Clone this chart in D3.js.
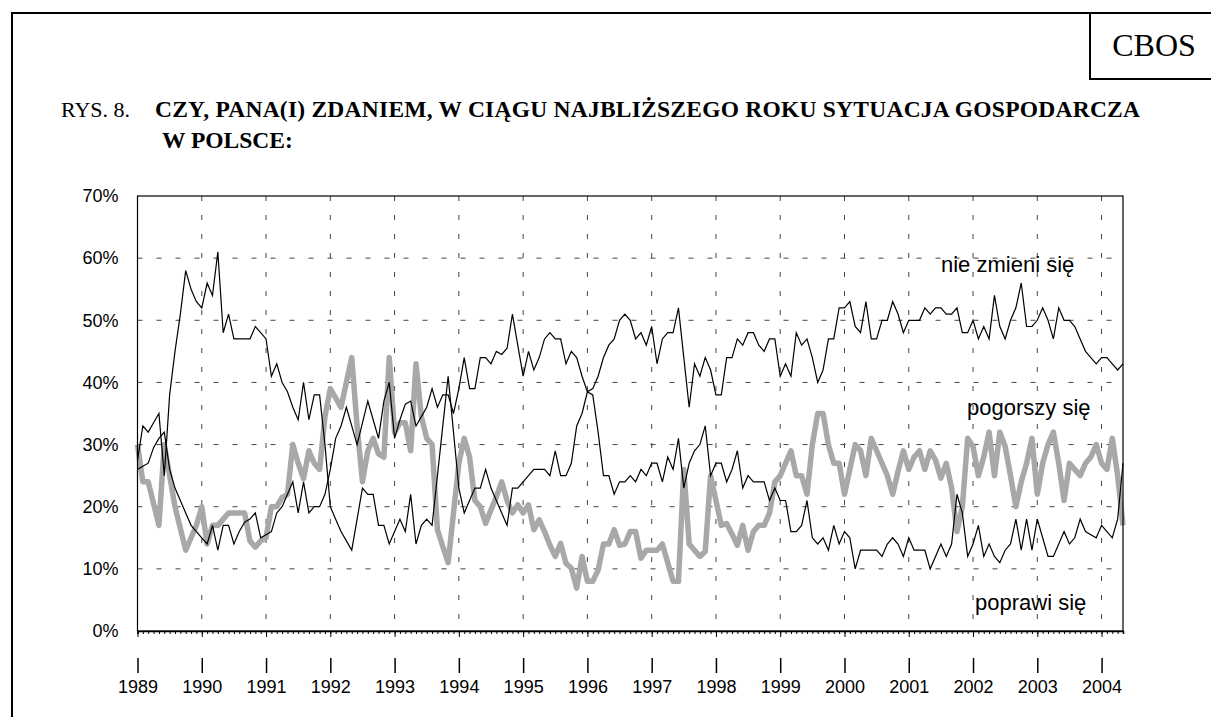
<!DOCTYPE html>
<html><head><meta charset="utf-8">
<script src="https://cdn.jsdelivr.net/npm/d3@7"></script>
<style>
html,body{margin:0;padding:0;background:#fff;}
svg{display:block;}
</style></head>
<body>
<svg id="chart" width="1211" height="717"></svg>
<script>
// ---- DATA (monthly, index 0 = January 1989) ----
const startYear = 1989;
const yearLabels = ["1989","1990","1991","1992","1993","1994","1995","1996","1997","1998","1999","2000","2001","2002","2003","2004"];
const yTicks = [0,10,20,30,40,50,60,70];
const seriesNames = ["nie zmieni się","pogorszy się","poprawi się"];

const nieZmieni = [27.5,33,32,33.5,35,25,38,45,51,58,55,53,52,56,54,61,48,51,47,47,47,47,49,48,
47,41,43,40,38.5,36,34,40,34,38,38,30,20,18,16,14.5,13,18,23,22,22,17,17,14,
16,18,16,22,14,17,18,17,25,33,41,32,23,19,21,23,23,26,23,21,19,17,23,23,
24,25,26,26,26,25,29,25,25,27,33,35,38.5,39,41,44,46,47,50,51,50,47,48,46,
49,43,47,48,48,52,44,36,43,41,44,42,38,38,44,44,47,46,48,48,46,45,47,47,
41,43,41,48,46,47,44,40,42,47,47,52,52,53,49,48,53,47,47,50,50,53,51,48,
50,50,50,52,51,52,52,51,51,52,48,48,50,47,49,47,54,49,47,50,52,56,49,49,
50,52,50,47,52,50,50,49,47,45,44,43,44,44,43,42,43];

const poprawi = [26,26.5,27,29.5,31,32,26,23,21,19,17,16,15,14,17,13,17,17,14,16,17.5,18,19,15,
15.5,16,19,20,22,24,19,24,19,20,20,22,26,31,33,36,33,30,33.5,37,34,31,37,40,
31,34,36.5,37,33,34.5,36,39,36,38,38,35,39,44,39,39,44,44,43,45,44.5,45.5,51,46,
41,45,42,44,47,48,47,47,43,45,44,41,38.5,38,32,25,25,22,24,24,25,24,26,25,
27,27,24,28,26,31,23,27,29,30,33,25,27,27,24,26,29,23,25,24,24,24,21,23,
21,21,16,16,17,21,15,14,15,13,17,14,16,15,10,13,13,13,13,12,14,15,14,12,
15,13,13,13,10,12,14,12,14,22,19,12,14,17,12,14,12,11,13,14,18,13,18,13,
18,15,12,12,14,16,14,15,18,16,15.5,15,17,16,15,18,27];

const pogorszy = [30,24,24,20.5,17,30,25,20,16.5,13,15,17,20,14,17,17,18,19,19,19,19,14.5,13.5,14.5,
15,20,20,21.5,22,30,27,24.5,29,27,26,34.5,39,37.5,36,40,44,33,24,29,31,28.5,28,44,
32,33.5,33.5,29,43,34.5,31,30,16.3,13.6,11,19,27,31,28,21,20,17.3,19.5,21.6,24,21,19,20.3,
19,20.3,16.3,17.9,16,13.8,12,14.1,10.9,10.1,6.9,12,8,8,9.8,14,14,16.3,13.8,14,16,16,11.7,13,
13,13,14,11,8,8,26,14,13,12,12.8,25,21,17,17.3,15.6,13.8,17,13,16,17,17,19,24,
25,27,29,25,25,22,30,35,35,30,27,27,22,26,30,29,25,31,29,27,25,22,25.7,29,
26,28,29,26,29,27.5,24.6,27,23,16,20,31,29.7,25,28,32,25,32,29.7,25,20,24,27,31,
22,27,30,32,27,21,27,26,25,27,28,30,27,26,31,25,17];

const months = d3.range(nieZmieni.length);

// ---- LAYOUT ----
const svg = d3.select("#chart");
const plot = {left:137.5, right:1123, top:196, bottom:631};

const x = d3.scaleLinear().domain([0, months.length-1]).range([plot.left, plot.right]);
const y = d3.scaleLinear().domain([0,70]).range([plot.bottom, plot.top]);

const serif = "'Liberation Serif','Times New Roman',serif";
const sans = "'Liberation Sans',Arial,sans-serif";

// page frame
svg.append("line").attr("x1",11).attr("x2",1211).attr("y1",13).attr("y2",13).attr("stroke","#000").attr("stroke-width",2);
svg.append("line").attr("x1",12).attr("x2",12).attr("y1",12).attr("y2",717).attr("stroke","#000").attr("stroke-width",2);
// CBOS box
svg.append("line").attr("x1",1090).attr("x2",1090).attr("y1",12).attr("y2",79).attr("stroke","#000").attr("stroke-width",2);
svg.append("line").attr("x1",1089).attr("x2",1211).attr("y1",79).attr("y2",79).attr("stroke","#000").attr("stroke-width",2);
svg.append("text").attr("x",1154).attr("y",56).attr("text-anchor","middle")
  .style("font-family",serif).style("font-size","32px").text("CBOS");

// title
svg.append("text").attr("x",61).attr("y",117).style("font-family",serif).style("font-size","22px").text("RYS. 8.");
svg.append("text").attr("x",155).attr("y",117).style("font-family",serif).style("font-size","23.5px").style("font-weight","bold")
  .attr("textLength",985).attr("lengthAdjust","spacing")
  .text("CZY, PANA(I) ZDANIEM, W CIĄGU NAJBLIŻSZEGO ROKU SYTUACJA GOSPODARCZA");
svg.append("text").attr("x",162).attr("y",148).style("font-family",serif).style("font-size","23.5px").style("font-weight","bold")
  .text("W POLSCE:");

// grid
const yearIdx = yearLabels.map((d,i)=>i*12);
const grid = svg.append("g").attr("stroke","#444").attr("stroke-width",1).attr("stroke-dasharray","5,14");
grid.selectAll("line.h").data(yTicks.filter(d=>d>0 && d<70)).enter().append("line")
  .attr("x1",plot.left).attr("x2",plot.right).attr("y1",d=>y(d)).attr("y2",d=>y(d));
grid.selectAll("line.v").data(yearIdx.filter(d=>d>0)).enter().append("line")
  .attr("x1",d=>x(d)).attr("x2",d=>x(d)).attr("y1",plot.top).attr("y2",plot.bottom);

// y axis labels
const yAxis = d3.axisLeft(y).tickValues(yTicks).tickSize(0).tickPadding(19).tickFormat(d=>d+"%");
const gy = svg.append("g").attr("transform",`translate(${plot.left},0)`).call(yAxis);
gy.select(".domain").remove();
gy.selectAll("text").style("font-family",sans).style("font-size","18px").attr("fill","#000");

// series lines
const line = d3.line().x((d,i)=>x(months[i])).y(d=>y(d));
svg.append("path").datum(pogorszy).attr("d",line).attr("fill","none").attr("stroke","#a8a8a8")
  .attr("stroke-width",5.5).attr("stroke-linejoin","round");
svg.append("path").datum(nieZmieni).attr("d",line).attr("fill","none").attr("stroke","#000").attr("stroke-width",1.2);
svg.append("path").datum(poprawi).attr("d",line).attr("fill","none").attr("stroke","#000").attr("stroke-width",1.2);

// plot frame
svg.append("rect").attr("x",plot.left).attr("y",plot.top).attr("width",plot.right-plot.left).attr("height",plot.bottom-plot.top)
  .attr("fill","none").attr("stroke","#000").attr("stroke-width",1.2);

// x axis: monthly minor ticks
const xMinor = d3.axisBottom(x).tickValues(months).tickSize(3).tickFormat("");
const gm = svg.append("g").attr("transform",`translate(0,${plot.bottom})`).call(xMinor);
gm.select(".domain").attr("stroke","#000").attr("stroke-width",1.5);
gm.selectAll(".tick line").attr("stroke","#000").attr("stroke-width",1);
const xMajor = d3.axisBottom(x).tickValues(yearIdx).tickSize(6).tickFormat("");
const gM = svg.append("g").attr("transform",`translate(0,${plot.bottom})`).call(xMajor);
gM.select(".domain").remove();
gM.selectAll(".tick line").attr("stroke","#000");

// second row: year markers + labels
const xYears = d3.axisBottom(x).tickValues(yearIdx).tickSize(15).tickPadding(7).tickFormat((d,i)=>yearLabels[i]);
const gY = svg.append("g").attr("transform","translate(0,658)").call(xYears);
gY.select(".domain").remove();
gY.selectAll(".tick line").attr("stroke","#000").attr("stroke-width",1.5);
gY.selectAll("text").style("font-family",sans).style("font-size","18px").attr("fill","#000");

// series labels
const labelPos = [[941,272],[967,415],[975,610]];
svg.selectAll("text.lab").data(seriesNames).enter().append("text").attr("class","lab")
  .attr("x",(d,i)=>labelPos[i][0]).attr("y",(d,i)=>labelPos[i][1])
  .style("font-family",sans).style("font-size","22px").text(d=>d);
</script>
</body></html>
